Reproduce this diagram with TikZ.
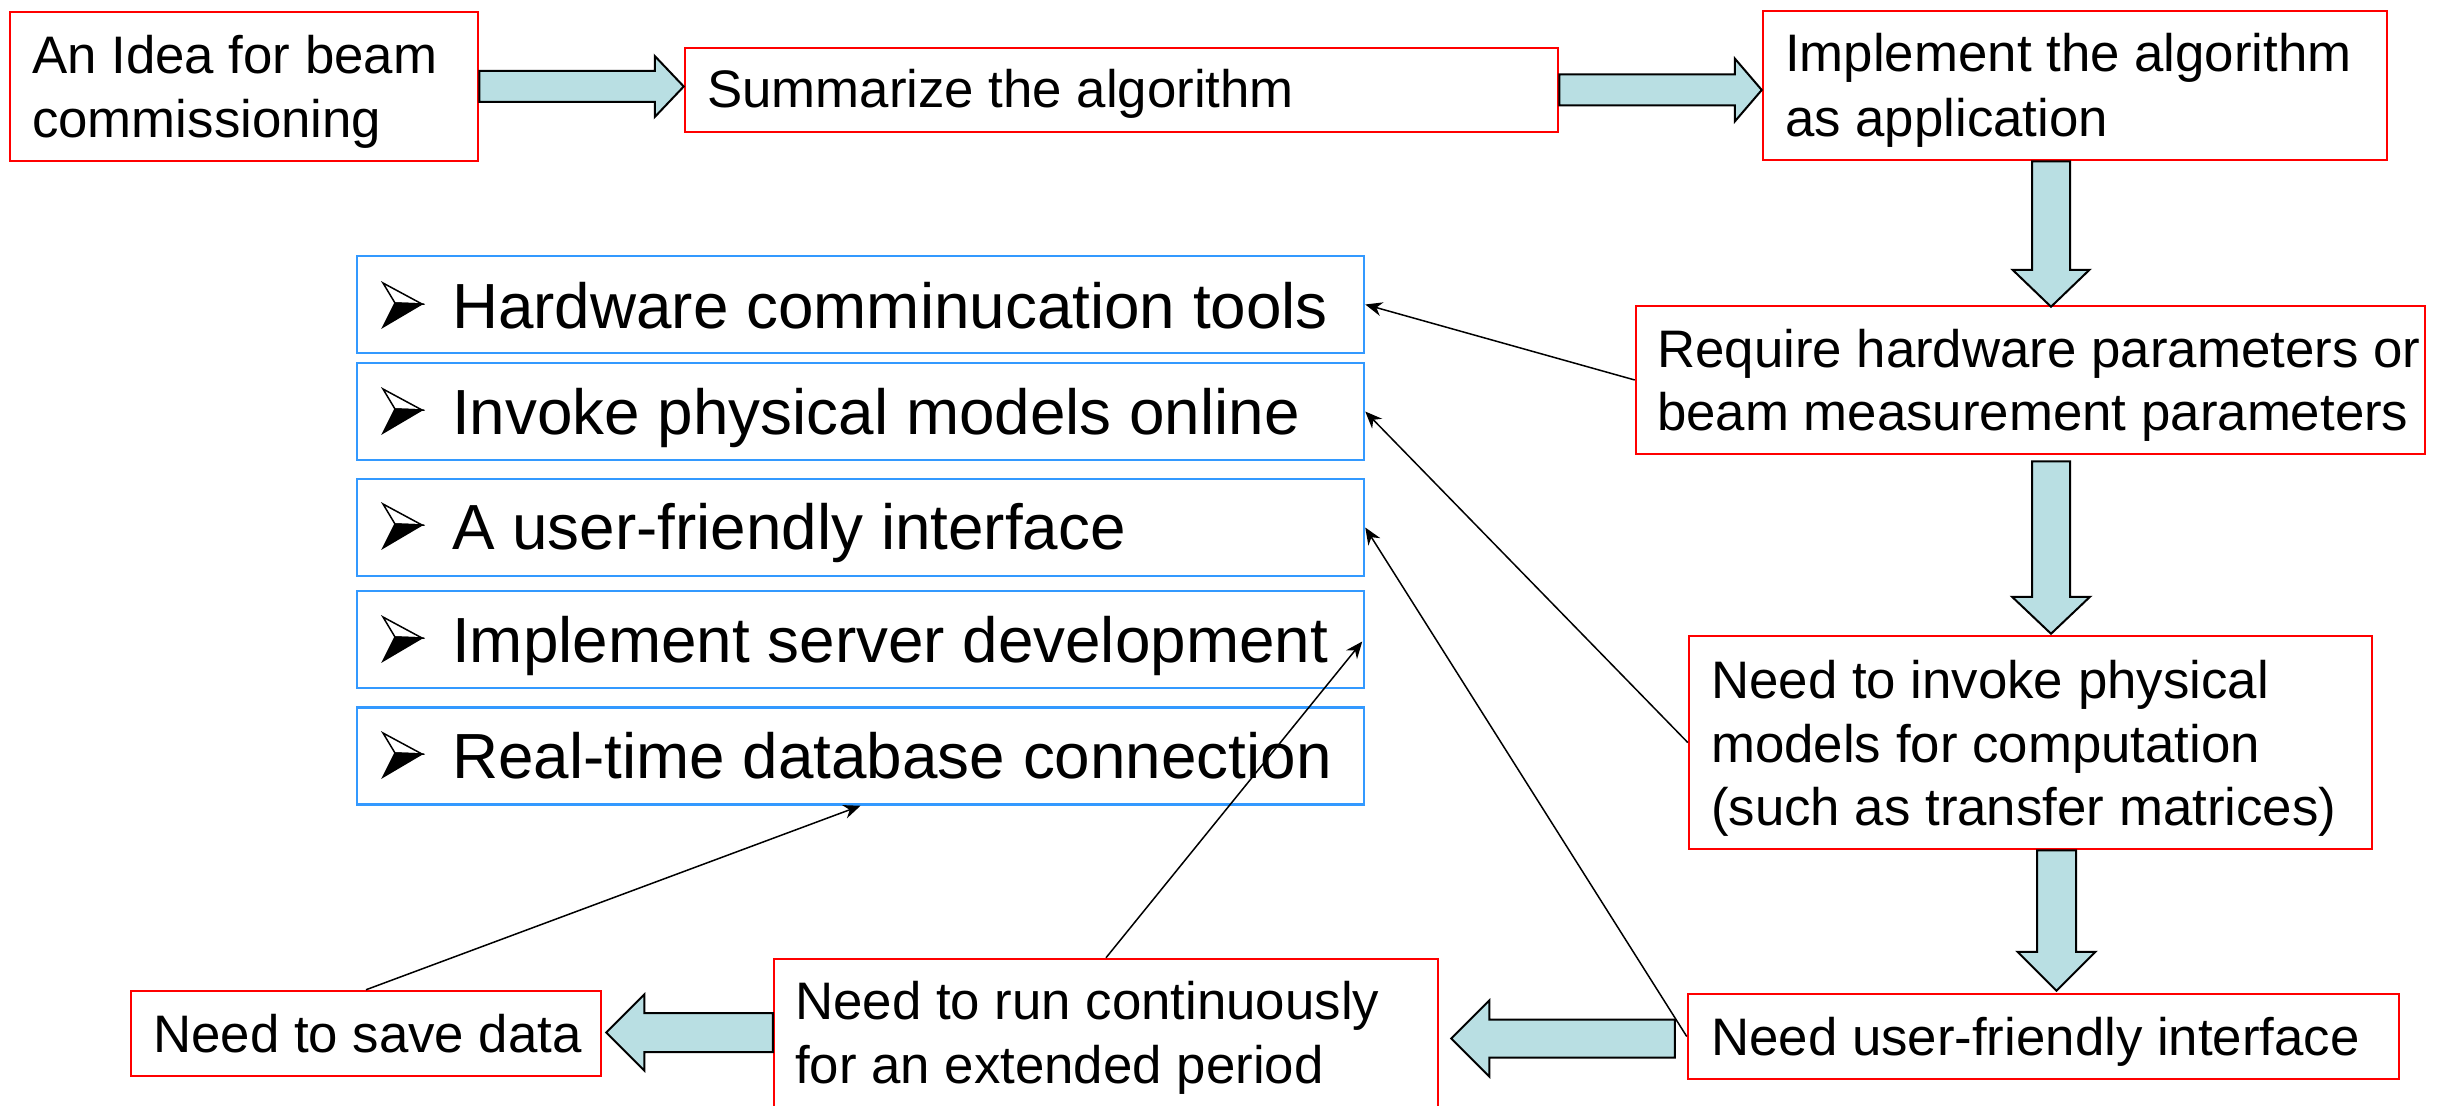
\documentclass[tikz,border=0pt]{standalone}
\usepackage{fontspec}
\setmainfont{Liberation Sans}
\usetikzlibrary{calc,arrows.meta}

\definecolor{boxred}{RGB}{255,0,0}
\definecolor{boxblue}{RGB}{51,153,255}
\definecolor{flowfill}{RGB}{185,223,227}

% horizontal block arrow: start, tip, half shaft, half head, head length
\newcommand\flowH[5]{%
  \draw[flowarrow] let \p1=(#1), \p2=(#2), \n1={#5*sign(\x2-\x1)} in
    (\x1,\y1+#3) -- (\x2-\n1,\y1+#3) -- (\x2-\n1,\y1+#4) -- (\x2,\y1)
    -- (\x2-\n1,\y1-#4) -- (\x2-\n1,\y1-#3) -- (\x1,\y1-#3) -- cycle;}
% vertical block arrow: start, tip, half shaft, half head, head length
\newcommand\flowV[5]{%
  \draw[flowarrow] let \p1=(#1), \p2=(#2), \n1={#5*sign(\y2-\y1)} in
    (\x1+#3,\y1) -- (\x1+#3,\y2-\n1) -- (\x1+#4,\y2-\n1) -- (\x1,\y2)
    -- (\x1-#4,\y2-\n1) -- (\x1-#3,\y2-\n1) -- (\x1-#3,\y1) -- cycle;}

\begin{document}
\begin{tikzpicture}[x=1pt,y=-1pt,
  redbox/.style={draw=boxred, line width=2.5pt, fill=white, inner sep=0pt},
  bluebox/.style={draw=boxblue, line width=2.5pt, fill=white, inner sep=0pt,
    minimum width=1007pt, minimum height=97pt},
  txt/.style={anchor=base west, inner sep=0pt, font=\fontsize{52.8pt}{63pt}\selectfont},
  itemtxt/.style={anchor=base west, inner sep=0pt, font=\fontsize{63.8pt}{76pt}\selectfont},
  flowarrow/.style={draw=black, line width=2pt, fill=flowfill, line join=miter},
  link/.style={draw=black, line width=1.5pt, -{Stealth[length=17pt,width=14pt]}},
  bulletmark/.pic={
    \draw[line width=1.5pt, fill=white, line join=miter] (0,-45) -- (39,-24) -- (12,-25) -- cycle;
    \draw[line width=1.5pt, fill=black, line join=miter] (12,-25) -- (39,-24) -- (0,-1) -- cycle;
  }]
\useasboundingbox (0,0) rectangle (2456,1105);

% process boxes
\node[redbox, minimum width=468pt, minimum height=149pt] (A) at (244,86.5) {};
\node[redbox, minimum width=873pt, minimum height=84pt]  (B) at (1121.5,90) {};
\node[redbox, minimum width=624pt, minimum height=149pt] (C) at (2075,85.5) {};
\node[redbox, minimum width=789pt, minimum height=148pt] (D) at (2030.5,380) {};
\node[redbox, minimum width=683pt, minimum height=213pt] (E) at (2030.5,742.5) {};
\node[redbox, minimum width=711pt, minimum height=85pt]  (F) at (2043.5,1036.5) {};
\node[redbox, minimum width=664pt, minimum height=149pt] (G) at (1106,1033.5) {};
\node[redbox, minimum width=470pt, minimum height=85pt]  (H) at (366,1033.5) {};

\node[txt] (A1) at (32,74) {An Idea for beam};
\node[txt] (A2) at (32,137) {commissioning};
\node[txt] (B1) at (707,108) {Summarize the algorithm};
\node[txt] (C1) at (1785,72) {Implement the algorithm};
\node[txt] (C2) at (1785,136) {as application};
\node[txt] (D1) at (1657,367) {Require hardware parameters or};
\node[txt] (D2) at (1657,430) {beam measurement parameters};
\node[txt] (E1) at (1711,698) {Need to invoke physical};
\node[txt] (E2) at (1711,762) {models for computation};
\node[txt] (E3) at (1711,825) {(such as transfer matrices)};
\node[txt] (F1) at (1711,1055) {Need user-friendly interface};
\node[txt] (G1) at (795,1019) {Need to run continuously};
\node[txt] (G2) at (795,1083) {for an extended period};
\node[txt] (H1) at (153,1052) {Need to save data};

% requirement list
\node[bluebox] (P1) at (860.5,304.5) {};
\node[bluebox] (P2) at (860.5,411.5) {};
\node[bluebox] (P3) at (860.5,527.5) {};
\node[bluebox] (P4) at (860.5,639.5) {};
\node[bluebox] (P5) at (860.5,756) {};

\pic at (383,328) {bulletmark};
\pic at (383,434) {bulletmark};
\pic at (383,549) {bulletmark};
\pic at (383,662) {bulletmark};
\pic at (383,778) {bulletmark};

\node[itemtxt] (P1t) at (452,328) {Hardware comminucation tools};
\node[itemtxt] (P2t) at (452,434) {Invoke physical models online};
\node[itemtxt] (P3t) at (452,549) {A user-friendly interface};
\node[itemtxt] (P4t) at (452,662) {Implement server development};
\node[itemtxt] (P5t) at (452,778) {Real-time database connection};

% main flow
\flowH{A.east}{B.west}{15.5pt}{30.5pt}{29pt}
\flowH{B.east}{C.west}{15.5pt}{31.5pt}{27pt}
\flowV{$(C.south)+(-24,0)$}{$(D.north)+(20.5,2)$}{19pt}{38.5pt}{37pt}
\flowV{$(D.south)+(20.5,6)$}{$(E.north)+(20.5,-1)$}{19pt}{39pt}{37pt}
\flowV{$(E.south)+(26,0)$}{$(F.north)+(13,-2)$}{19.5pt}{39pt}{39pt}
\flowH{$(F.west)+(-12,2)$}{$(G.east)+(12,0)$}{19pt}{38pt}{38pt}
\flowH{$(G.west)+(0,-1)$}{$(H.east)+(4,0)$}{19.5pt}{38pt}{38pt}

% requirement links
\draw[link] (D.west) -- (P1.east);
\draw[link] (E.west) -- (P2.east);
\draw[link] (F.west) -- (P3.east);
\draw[link] (G.north) -- ($(P4.east)+(-3,2)$);
\draw[link] (H.north) -- (P5.south);
\end{tikzpicture}
\end{document}
